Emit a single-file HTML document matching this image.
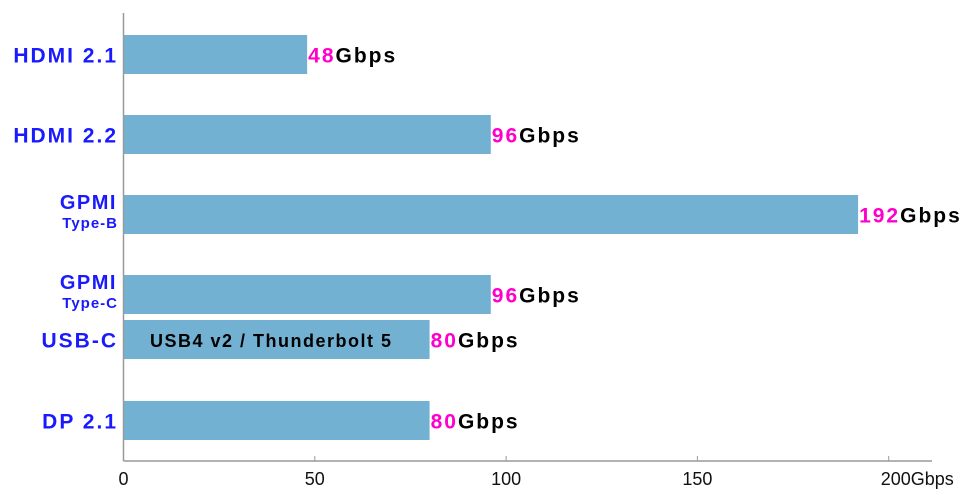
<!DOCTYPE html>
<html><head><meta charset="utf-8"><style>
body{margin:0;background:#fff;width:973px;height:497px;overflow:hidden}
svg{display:block}
</style></head><body>
<svg id="chart" width="973" height="497" xmlns="http://www.w3.org/2000/svg" font-family="'Liberation Sans', sans-serif">
<g id="bars"></g>
<g id="axes"></g>
</svg>
<script>
const categories = ["HDMI 2.1", "HDMI 2.2", "GPMI", "GPMI", "USB-C", "DP 2.1"];
const subLabels = ["", "", "Type-B", "Type-C", "", ""];
const values = [48, 96, 192, 96, 80, 80];
const barTops = [35, 115, 195, 275, 320, 401];
const tickValues = [0, 50, 100, 150, 200];
const tickLabels = ["0", "50", "100", "150", "200Gbps"];
const NS = "http://www.w3.org/2000/svg";
const x0 = 123.5, xScale = 3.826, barH = 39, axisY = 461;
const xPos = v => x0 + v * xScale;
function mk(tag, attrs, parent, text) {
  const e = document.createElementNS(NS, tag);
  for (const k in attrs) e.setAttribute(k, attrs[k]);
  if (text !== undefined) e.textContent = text;
  parent.appendChild(e); return e;
}
const bars = document.getElementById('bars');
const axes = document.getElementById('axes');
values.forEach((v, i) => {
  const y = barTops[i];
  const r = mk('rect', {x: x0, y: y, width: xPos(v) - x0, height: barH, fill: '#73b1d3'}, bars);
  
  
  const t = mk('text', {x: xPos(v) + 1, y: y + barH / 2 + 8, 'font-size': 21, 'font-weight': 'bold', 'letter-spacing': 2}, bars);
  
  
  mk('tspan', {fill: '#ff00cc'}, t, String(v));
  mk('tspan', {fill: '#000'}, t, 'Gbps');
  if (subLabels[i]) {
    const c = mk('text', {x: 117, y: y + 14, 'text-anchor': 'end', 'font-size': 20, 'font-weight': 'bold', fill: '#1a1aff', 'letter-spacing': 1.5}, axes, categories[i]);
    
    
    const s = mk('text', {x: 118, y: y + 33, 'text-anchor': 'end', 'font-size': 15, 'font-weight': 'bold', fill: '#1a1aff', 'letter-spacing': 1}, axes, subLabels[i]);
    
    
  } else {
    const c = mk('text', {x: 118, y: y + barH / 2 + 8, 'text-anchor': 'end', 'font-size': 21, 'font-weight': 'bold', fill: '#1a1aff', 'letter-spacing': 2}, axes, categories[i]);
    
    
  }
});
const inner = mk('text', {x: 150, y: 347, 'font-size': 18, 'font-weight': 'bold', fill: '#000', 'letter-spacing': 1.5}, bars, 'USB4 v2 / Thunderbolt 5');


const ya = mk('line', {x1: x0, y1: 13, x2: x0, y2: axisY, stroke: '#999', 'stroke-width': 1.5}, axes);


const xa = mk('line', {x1: x0, y1: axisY, x2: 932, y2: axisY, stroke: '#999', 'stroke-width': 1.5}, axes);


tickValues.forEach((v, i) => {
  const tk = mk('line', {x1: xPos(v), y1: axisY - 5, x2: xPos(v), y2: axisY, stroke: '#999', 'stroke-width': 1}, axes);
  
  
  const last = i === tickValues.length - 1;
  const lbl = mk('text', {x: last ? xPos(v) - 8 : xPos(v), y: 485, 'text-anchor': last ? 'start' : 'middle', 'font-size': 18, fill: '#111'}, axes, tickLabels[i]);
  
  
});
</script>
</body></html>
